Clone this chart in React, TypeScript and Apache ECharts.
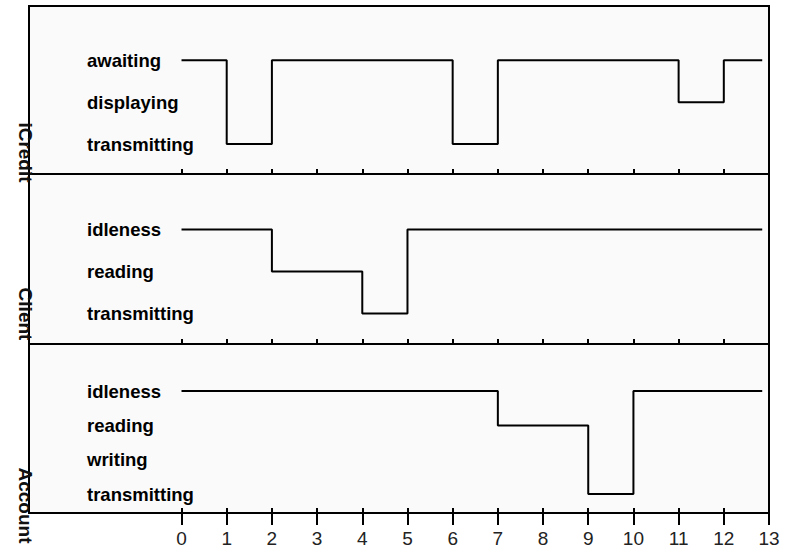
import React, { useEffect, useRef } from "react";
import * as echarts from "echarts";

const xTicks = [0, 1, 2, 3, 4, 5, 6, 7, 8, 9, 10, 11, 12, 13];

const iCreditStates = ["transmitting", "displaying", "awaiting"];
const iCreditTimes = [0, 1, 2, 6, 7, 11, 12, 12.85];
const iCreditValues = ["awaiting", "transmitting", "awaiting", "transmitting", "awaiting", "displaying", "awaiting", "awaiting"];

const clientStates = ["transmitting", "reading", "idleness"];
const clientTimes = [0, 2, 4, 5, 12.85];
const clientValues = ["idleness", "reading", "transmitting", "idleness", "idleness"];

const accountStates = ["transmitting", "writing", "reading", "idleness"];
const accountTimes = [0, 7, 9, 10, 12.85];
const accountValues = ["idleness", "reading", "transmitting", "idleness", "idleness"];

const panelNames = ["iCredit", "Client", "Account"];

const FONT = "'Liberation Sans', Arial, Helvetica, sans-serif";

export default function App() {
  const ref = useRef<HTMLDivElement>(null);
  useEffect(() => {
    if (!ref.current) return;
    const chart = echarts.init(ref.current, undefined, { renderer: "svg" });

    const panels = [
      { states: iCreditStates, times: iCreditTimes, values: iCreditValues, top: 6, height: 168, min: -0.716, max: 3.296 },
      { states: clientStates, times: clientTimes, values: clientValues, top: 174, height: 170, min: -0.726, max: 3.317 },
      { states: accountStates, times: accountTimes, values: accountValues, top: 344, height: 169, min: -0.55, max: 4.37 },
    ];
    const XMIN = -3.375;
    const XMAX = 13;

    const grids = panels.map((p) => ({
      left: 29,
      right: 31,
      top: p.top,
      height: p.height,
      show: true,
      backgroundColor: "#fafafa",
      borderColor: "#000",
      borderWidth: 2,
    }));

    const xAxes: any[] = panels.map((_, i) => ({
      type: "value",
      gridIndex: i,
      min: XMIN,
      max: XMAX,
      position: "bottom",
      axisLine: { show: false, onZero: false },
      splitLine: { show: false },
      axisLabel: { show: false },
      axisTick: {
        show: true,
        inside: true,
        length: 5,
        customValues: xTicks,
        lineStyle: { color: "#000", width: 2 },
      },
    }));
    xAxes.push({
      type: "value",
      gridIndex: 2,
      min: XMIN,
      max: XMAX,
      position: "bottom",
      offset: 0,
      axisLine: { show: true, onZero: false, lineStyle: { color: "#000", width: 2 } },
      splitLine: { show: false },
      axisTick: {
        show: true,
        inside: false,
        length: 12,
        customValues: xTicks,
        lineStyle: { color: "#000", width: 2 },
      },
      axisLabel: {
        show: true,
        customValues: xTicks,
        margin: 16,
        color: "#222",
        fontSize: 19,
        fontFamily: FONT,
      },
    });

    const yAxes = panels.map((p, i) => ({
      type: "value",
      gridIndex: i,
      min: p.min,
      max: p.max,
      axisLine: { show: false, onZero: false },
      splitLine: { show: false },
      axisTick: { show: false },
      axisLabel: {
        show: true,
        inside: true,
        margin: 58,
        align: "left",
        customValues: p.states.map((_, k) => k),
        formatter: (v: number) => p.states[Math.round(v)] ?? "",
        color: "#000",
        fontSize: 18.5,
        fontWeight: "bold",
        fontFamily: FONT,
      },
    }));

    const series = panels.map((p, i) => ({
      type: "line",
      xAxisIndex: i,
      yAxisIndex: i,
      step: "end",
      symbol: "none",
      lineStyle: { color: "#000", width: 2 },
      data: p.times.map((t, k) => [t, p.states.indexOf(p.values[k])]),
    }));

    const nameCenters = [152.5, 314, 505.5];
    const graphic = panelNames.map((n, i) => ({
      type: "text",
      x: 25,
      y: nameCenters[i],
      rotation: -Math.PI / 2,
      z: 100,
      style: {
        text: n,
        align: "center",
        verticalAlign: "middle",
        fill: "#111",
        font: `bold 19px ${FONT}`,
      },
    }));

    chart.setOption({
      animation: false,
      backgroundColor: "#ffffff",
      grid: grids,
      xAxis: xAxes,
      yAxis: yAxes,
      series,
      graphic,
    });
    return () => chart.dispose();
  }, []);
  return (
    <div
      ref={ref}
      style={{ position: "absolute", left: 0, top: 0, width: 800, height: 555 }}
    />
  );
}
